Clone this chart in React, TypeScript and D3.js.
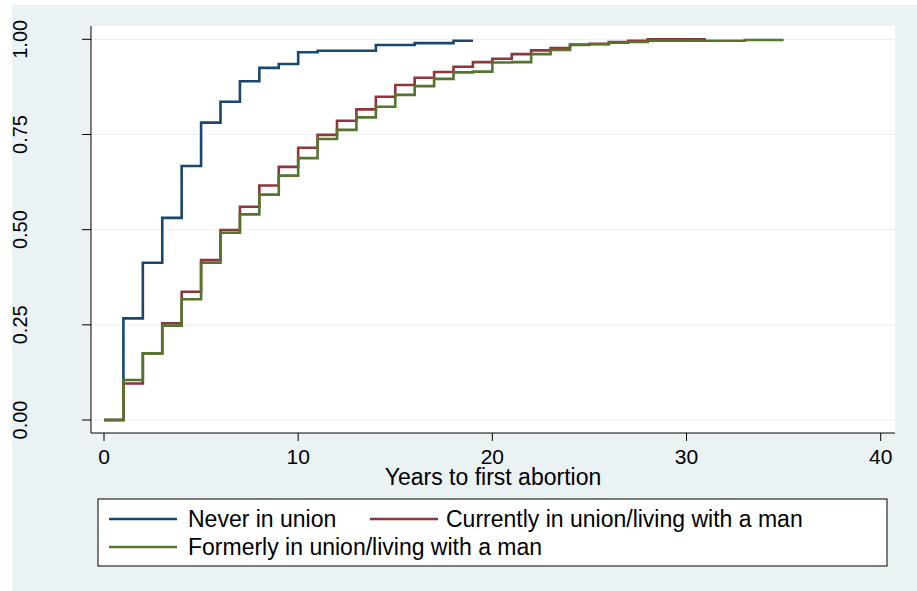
import React from "react";
import * as d3 from "d3";

const neverTimes = [0, 1, 2, 3, 4, 5, 6, 7, 8, 9, 10, 11, 14, 16, 18, 19];
const neverValues = [0, 0.267, 0.413, 0.531, 0.667, 0.781, 0.836, 0.89, 0.925, 0.935, 0.966, 0.97, 0.985, 0.99, 0.996, 0.996];

const currentTimes = [0, 1, 2, 3, 4, 5, 6, 7, 8, 9, 10, 11, 12, 13, 14, 15, 16, 17, 18, 19, 20, 21, 22, 23, 24, 25, 26, 27, 28, 31];
const currentValues = [0, 0.096, 0.175, 0.254, 0.337, 0.42, 0.499, 0.56, 0.616, 0.665, 0.715, 0.749, 0.786, 0.816, 0.849, 0.88, 0.899, 0.914, 0.928, 0.94, 0.949, 0.961, 0.971, 0.977, 0.986, 0.988, 0.993, 0.996, 1.0, 1.0];

const formerTimes = [0, 1, 2, 3, 4, 5, 6, 7, 8, 9, 10, 11, 12, 13, 14, 15, 16, 17, 18, 19, 20, 21, 22, 23, 24, 25, 26, 27, 28, 33, 35];
const formerValues = [0, 0.105, 0.175, 0.248, 0.317, 0.413, 0.492, 0.54, 0.592, 0.642, 0.688, 0.738, 0.762, 0.795, 0.823, 0.854, 0.877, 0.896, 0.913, 0.915, 0.939, 0.94, 0.961, 0.972, 0.985, 0.987, 0.991, 0.993, 0.996, 0.998, 0.998];

const xTicks = [0, 10, 20, 30, 40];
const yTicks = [0, 0.25, 0.5, 0.75, 1];
const yTickLabels = ["0.00", "0.25", "0.50", "0.75", "1.00"];
const seriesNames = ["Never in union", "Currently in union/living with a man", "Formerly in union/living with a man"];
const xTitle = "Years to first abortion";

const COLORS = ["#1a476f", "#90353b", "#55752f"];
const FONT = "'Liberation Sans', Arial, sans-serif";

export default function App() {
  const W = 917, H = 591;
  const plotL = 91, plotR = 895, plotT = 26, plotB = 433;
  const x = d3.scaleLinear().domain([0, 40]).range([104, 880.7]);
  const y = d3.scaleLinear().domain([0, 1]).range([420, 39.3]);
  const line = d3.line<[number, number]>()
    .x((d) => x(d[0]))
    .y((d) => y(d[1]))
    .curve(d3.curveStepAfter);

  const series = [
    neverTimes.map((t, i) => [t, neverValues[i]] as [number, number]),
    currentTimes.map((t, i) => [t, currentValues[i]] as [number, number]),
    formerTimes.map((t, i) => [t, formerValues[i]] as [number, number]),
  ];

  const legendItems = [
    { lx: 109, ly: 519, tx: 188, ty: 527 },
    { lx: 370, ly: 519, tx: 446, ty: 527 },
    { lx: 109, ly: 547, tx: 188, ty: 555 },
  ];

  return (
    <svg width={W} height={H} style={{ position: "absolute", left: 0, top: 0 }} fontFamily={FONT}>
      <rect x={0} y={0} width={W} height={H} fill="#ffffff" />
      <rect x={12} y={5} width={W - 12} height={H - 5} fill="#eaf2f3" />
      <rect x={plotL} y={plotT} width={plotR - plotL} height={plotB - plotT} fill="#ffffff" />
      {yTicks.map((t) => (
        <line key={"g" + t} x1={plotL} x2={plotR} y1={y(t)} y2={y(t)} stroke="#eaf2f3" strokeWidth={1.2} />
      ))}
      {series.map((s, i) => (
        <path key={i} d={line(s) || ""} fill="none" stroke={COLORS[i]} strokeWidth={2.6} strokeLinejoin="miter" />
      ))}
      <line x1={plotL} x2={plotL} y1={plotT} y2={plotB} stroke="#000" strokeWidth={1} />
      <line x1={plotL} x2={plotR} y1={plotB} y2={plotB} stroke="#000" strokeWidth={1} />
      {yTicks.map((t, i) => (
        <g key={"y" + t}>
          <line x1={82} x2={plotL} y1={y(t)} y2={y(t)} stroke="#000" strokeWidth={1} />
          <text transform={`translate(27,${y(t)}) rotate(-90)`} textAnchor="middle" fontSize={20} fill="#000">
            {yTickLabels[i]}
          </text>
        </g>
      ))}
      {xTicks.map((t) => (
        <g key={"x" + t}>
          <line x1={x(t)} x2={x(t)} y1={plotB} y2={plotB + 8} stroke="#000" strokeWidth={1} />
          <text x={x(t)} y={464} textAnchor="middle" fontSize={21} fill="#000">
            {t}
          </text>
        </g>
      ))}
      <text x={(plotL + plotR) / 2} y={485} textAnchor="middle" fontSize={23} fill="#000">
        {xTitle}
      </text>
      <rect x={98} y={499} width={789} height={67} fill="#ffffff" stroke="#000" strokeWidth={1} />
      {legendItems.map((it, i) => (
        <g key={"l" + i}>
          <line x1={it.lx} x2={it.lx + 68} y1={it.ly} y2={it.ly} stroke={COLORS[i]} strokeWidth={2.6} />
          <text x={it.tx} y={it.ty} fontSize={23} fill="#000">
            {seriesNames[i]}
          </text>
        </g>
      ))}
    </svg>
  );
}
